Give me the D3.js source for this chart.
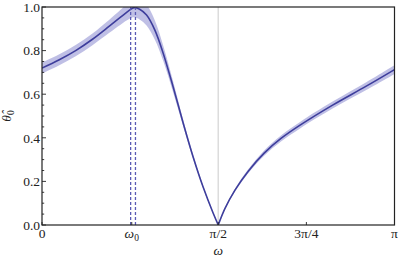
<!DOCTYPE html>
<html>
<head>
<meta charset="utf-8">
<script src="https://cdn.jsdelivr.net/npm/d3@7"></script>
<style>
  body { margin: 0; background: #fff; }
  text { font-family: "Liberation Serif", "DejaVu Serif", serif; font-size: 13.5px; fill: #222; }
</style>
</head>
<body>
<div id="chart"></div>
<script>
// estimated frequency and the two dashed bounds round it
var omega0 = 0.80;
var omegaBounds = [0.79, 0.833];

// curve (omega in rad)
var omega = [0, 0.15, 0.3, 0.45, 0.6, 0.7, 0.78, 0.82, 0.87, 0.932, 1.006, 1.080, 1.169, 1.258, 1.347, 1.436, 1.525, Math.PI / 2,
             1.63, 1.72, 1.84, 1.98, 2.13, 2.30, 2.59, 2.89, Math.PI];
var theta = [0.72, 0.757, 0.8, 0.852, 0.912, 0.953, 0.986, 0.997, 0.99, 0.963, 0.894, 0.788, 0.633, 0.468, 0.312, 0.174, 0.055, 0,
             0.075, 0.16, 0.248, 0.33, 0.397, 0.458, 0.55, 0.637, 0.713];
var thetaErr = [0.025, 0.025, 0.026, 0.027, 0.03, 0.034, 0.04, 0.044, 0.047, 0.048, 0.044, 0.035, 0.025, 0.015, 0.01, 0.006, 0.003, 0,
                0.004, 0.006, 0.009, 0.012, 0.014, 0.015, 0.016, 0.018, 0.02];

var xTickVals = [0, omega0, Math.PI / 2, 3 * Math.PI / 4, Math.PI];
var xTickLabels = ["0", "ω0", "π/2", "3π/4", "π"];
var yTicks = [0, 0.2, 0.4, 0.6, 0.8, 1.0];

var width = 399, height = 260;
var margin = {top: 7, right: 4.5, bottom: 35, left: 42};

var svg = d3.select("#chart").append("svg")
    .attr("width", width)
    .attr("height", height);

var x = d3.scaleLinear().domain([0, Math.PI]).range([margin.left, width - margin.right]);
var y = d3.scaleLinear().domain([0, 1]).range([height - margin.bottom, margin.top]);

var pts = omega.map(function(w, i) { return {w: w, t: theta[i], e: thetaErr[i]}; });
var mid = omega.indexOf(Math.PI / 2);
var pieces = [pts.slice(0, mid + 1), pts.slice(mid)];

svg.append("clipPath").attr("id", "clip")
  .append("rect")
    .attr("x", x(0)).attr("y", y(1))
    .attr("width", x(Math.PI) - x(0)).attr("height", y(0) - y(1));

// grey line at pi/2
svg.append("line")
    .attr("x1", x(Math.PI / 2)).attr("x2", x(Math.PI / 2))
    .attr("y1", y(0)).attr("y2", y(1))
    .style("stroke", "#dcdcdc").style("stroke-width", 1.5);

var plot = svg.append("g").attr("clip-path", "url(#clip)");

var area = d3.area()
    .x(function(d) { return x(d.w); })
    .y0(function(d) { return y(d.t - d.e); })
    .y1(function(d) { return y(d.t + d.e); })
    .curve(d3.curveCatmullRom.alpha(0.5));

var line = d3.line()
    .x(function(d) { return x(d.w); })
    .y(function(d) { return y(d.t); })
    .curve(d3.curveCatmullRom.alpha(0.5));

plot.selectAll(".band").data(pieces).enter().append("path")
    .attr("d", area)
    .style("fill", "#b4b4e0")
    .style("fill-opacity", 0.85);

plot.selectAll(".curve").data(pieces).enter().append("path")
    .attr("d", line)
    .style("fill", "none")
    .style("stroke", "#3e3e9c")
    .style("stroke-width", 1.6);

// dashed bounds
plot.selectAll(".bound").data(omegaBounds).enter().append("line")
    .attr("x1", function(d) { return x(d); }).attr("x2", function(d) { return x(d); })
    .attr("y1", y(0)).attr("y2", y(1))
    .style("stroke", "#5a5ab4")
    .style("stroke-width", 1.3)
    .style("stroke-dasharray", "3,2");

// frame
svg.append("rect")
    .attr("x", x(0)).attr("y", y(1))
    .attr("width", x(Math.PI) - x(0)).attr("height", y(0) - y(1))
    .style("fill", "none").style("stroke", "#222").style("stroke-width", 1.2);

// left axis, ticks point inwards
var yMinor = d3.range(0, 1.0001, 0.05);
svg.append("g").selectAll("line").data(yMinor).enter().append("line")
    .attr("x1", x(0))
    .attr("x2", function(d) { return x(0) + (Math.abs(d * 5 - Math.round(d * 5)) < 1e-6 ? 4 : 2.2); })
    .attr("y1", function(d) { return y(d); }).attr("y2", function(d) { return y(d); })
    .style("stroke", "#222").style("stroke-width", 0.9);

svg.append("g").selectAll("text").data(yTicks).enter().append("text")
    .attr("x", x(0) - 2)
    .attr("y", function(d) { return y(d); })
    .attr("dy", "0.35em")
    .style("text-anchor", "end")
    .text(function(d) { return d3.format(".1f")(d); });

// bottom axis
svg.append("g").selectAll("line").data(xTickVals).enter().append("line")
    .attr("x1", function(d) { return x(d); }).attr("x2", function(d) { return x(d); })
    .attr("y1", y(0)).attr("y2", y(0) - 3)
    .style("stroke", "#222").style("stroke-width", 0.9);

var xl = svg.append("g").selectAll("text").data(xTickVals).enter().append("text")
    .attr("x", function(d) { return x(d); })
    .attr("y", y(0) + 13)
    .style("text-anchor", "middle");
xl.each(function(d, i) {
  var s = xTickLabels[i], t = d3.select(this);
  if (s == "ω0") {
    t.append("tspan").style("font-style", "italic").text("ω");
    t.append("tspan").attr("dy", 3).style("font-size", "9.5px").text("0");
  } else {
    t.text(s);
  }
});

// axis titles
svg.append("text")
    .attr("x", x(Math.PI / 2)).attr("y", height - 5)
    .style("text-anchor", "middle").style("font-style", "italic")
    .text("ω");

var yl = svg.append("text")
    .attr("transform", "translate(11," + ((y(0) + y(1)) / 2) + ") rotate(-90)")
    .style("text-anchor", "middle");
yl.append("tspan").style("font-style", "italic").text("θ\u0302");
yl.append("tspan").attr("dy", 3).style("font-size", "9.5px").text("0");
</script>
</body>
</html>
